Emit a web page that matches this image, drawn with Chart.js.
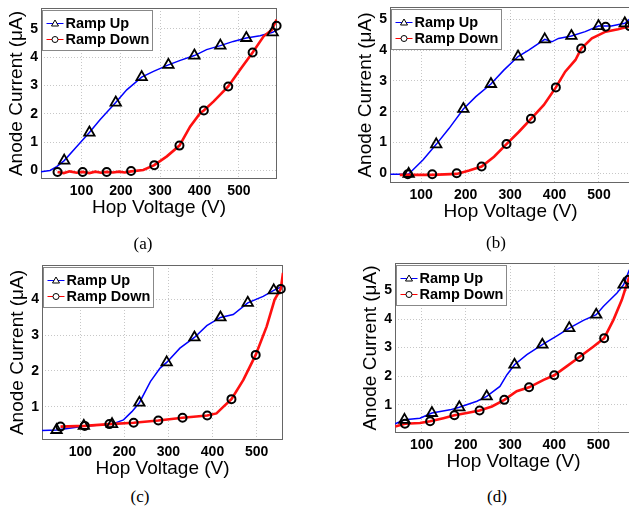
<!DOCTYPE html>
<html>
<head>
<meta charset="utf-8">
<script src="https://cdn.jsdelivr.net/npm/chart.js@4.4.1/dist/chart.umd.min.js"></script>
<style>
  html, body { margin: 0; padding: 0; background: #fff; overflow: hidden; width: 629px; height: 506px; position: relative; }
  canvas { position: absolute; }
  .cap { position: absolute; font: 17px "Liberation Serif", "Times New Roman", serif; color: #000; transform: translate(-50%, -50%); white-space: nowrap; }
</style>
</head>
<body>
<canvas id="a"></canvas>
<canvas id="b"></canvas>
<canvas id="c"></canvas>
<canvas id="d"></canvas>
<div class="cap" style="left:143px;top:244px">(a)</div>
<div class="cap" style="left:496px;top:243px">(b)</div>
<div class="cap" style="left:140px;top:497px">(c)</div>
<div class="cap" style="left:497px;top:497px">(d)</div>
<script>
// values: hop voltage (V) -> anode current (uA)
// (a)
const aUpV = [-3, 20, 37, 56, 88, 120, 147, 187, 215, 253, 283, 321, 351, 387, 418, 453, 486, 519, 554, 586, 597];
const aUpI = [-0.04, 0, 0.14, 0.35, 0.85, 1.34, 1.79, 2.40, 2.85, 3.30, 3.50, 3.73, 3.89, 4.06, 4.27, 4.41, 4.56, 4.68, 4.76, 4.88, 4.97];
const aDownV = [39, 55, 70, 88, 103, 120, 135, 150, 164, 180, 195, 210, 226, 257, 285, 317, 349, 376, 402, 411, 436, 473, 503, 535, 563, 584, 596];
const aDownI = [-0.05, -0.09, -0.03, -0.08, -0.05, -0.09, -0.04, -0.08, -0.05, -0.07, -0.04, -0.07, -0.03, 0.02, 0.19, 0.50, 0.88, 1.55, 2.03, 2.12, 2.44, 2.97, 3.56, 4.17, 4.74, 4.97, 5.33];
const aUpMarkV = [56, 120, 187, 253, 321, 387, 453, 519, 586];
const aUpMarkI = [0.35, 1.34, 2.40, 3.30, 3.73, 4.06, 4.41, 4.68, 4.88];
const aDownMarkV = [39, 103, 164, 226, 285, 349, 411, 473, 535, 596];
const aDownMarkI = [-0.05, -0.05, -0.05, -0.02, 0.19, 0.88, 2.12, 2.97, 4.17, 5.11];

// (b)
const bUpV = [31, 50, 72, 104, 134, 163, 195, 223, 257, 286, 318, 342, 378, 394, 409, 438, 469, 499, 528, 558, 571];
const bUpI = [-0.03, -0.03, -0.02, 0.43, 0.94, 1.46, 2.09, 2.49, 2.90, 3.35, 3.79, 4.00, 4.35, 4.27, 4.38, 4.46, 4.60, 4.78, 4.78, 4.87, 5.03];
const bDownV = [52, 70, 125, 180, 208, 236, 264, 292, 320, 347, 376, 403, 424, 447, 460, 484, 515, 543, 571];
const bDownI = [-0.05, -0.05, -0.05, -0.02, 0.09, 0.22, 0.54, 0.95, 1.35, 1.77, 2.22, 2.79, 3.30, 3.68, 4.05, 4.38, 4.60, 4.68, 4.78];
const bUpMarkV = [72, 134, 195, 257, 318, 378, 438, 499, 558];
const bUpMarkI = [-0.02, 0.94, 2.09, 2.90, 3.79, 4.35, 4.46, 4.78, 4.87];
const bDownMarkV = [70, 125, 180, 236, 292, 347, 403, 460, 515, 569];
const bDownMarkI = [-0.03, -0.03, 0.0, 0.22, 0.95, 1.77, 2.79, 4.05, 4.76, 4.78];

// (c)
const cUpV = [13, 46, 108, 172, 198, 217, 234, 259, 281, 296, 326, 359, 387, 418, 447, 480, 515, 539, 560];
const cUpI = [0.33, 0.345, 0.45, 0.51, 0.63, 0.86, 1.11, 1.70, 2.08, 2.24, 2.64, 2.94, 3.27, 3.50, 3.58, 3.91, 4.09, 4.26, 4.38];
const cDownV = [55, 110, 166, 221, 277, 332, 388, 409, 425, 443, 470, 498, 523, 541, 555, 560];
const cDownI = [0.44, 0.46, 0.51, 0.55, 0.61, 0.69, 0.75, 0.81, 1.0, 1.21, 1.75, 2.45, 3.25, 4.0, 4.30, 4.75];
const cUpMarkV = [46, 108, 172, 234, 296, 359, 418, 480, 539];
const cUpMarkI = [0.345, 0.46, 0.51, 1.11, 2.24, 2.94, 3.50, 3.91, 4.26];
const cDownMarkV = [55, 110, 166, 221, 277, 332, 388, 443, 498, 555];
const cDownMarkI = [0.44, 0.46, 0.51, 0.55, 0.61, 0.69, 0.75, 1.21, 2.45, 4.30];

// (d)
const dUpV = [40, 61, 96, 123, 164, 185, 225, 247, 277, 293, 310, 338, 373, 406, 434, 466, 495, 511, 542, 557, 570];
const dUpI = [0.335, 0.47, 0.53, 0.71, 0.82, 0.91, 1.12, 1.29, 1.64, 2.05, 2.40, 2.75, 3.10, 3.41, 3.68, 3.95, 4.15, 4.44, 4.91, 5.20, 5.72];
const dDownV = [40, 62, 96, 119, 149, 174, 202, 231, 259, 287, 315, 343, 376, 400, 428, 457, 489, 513, 534, 553, 570];
const dDownI = [0.24, 0.335, 0.36, 0.42, 0.53, 0.63, 0.71, 0.80, 0.94, 1.17, 1.47, 1.61, 1.87, 2.03, 2.34, 2.67, 3.04, 3.33, 3.97, 4.67, 5.49];
const dUpMarkV = [61, 123, 185, 247, 310, 373, 434, 495, 557];
const dUpMarkI = [0.47, 0.71, 0.91, 1.29, 2.40, 3.10, 3.68, 4.15, 5.20];
const dDownMarkV = [62, 119, 174, 231, 287, 343, 400, 457, 513, 568];
const dDownMarkI = [0.335, 0.42, 0.63, 0.80, 1.17, 1.61, 2.03, 2.67, 3.33, 5.37];

const xTicks = [100, 200, 300, 400, 500];
const aYTicks = [0, 1, 2, 3, 4, 5];
const bYTicks = [0, 1, 2, 3, 4, 5];
const cYTicks = [1, 2, 3, 4];
const dYTicks = [1, 2, 3, 4, 5];
const seriesNames = ["Ramp Up", "Ramp Down"];

Chart.defaults.font.family = '"Liberation Sans", Arial, sans-serif';
Chart.defaults.color = "#000";

// plot box in page pixels + axis limits
const panels = [
  { id: "a", L: 41, R: 277, T: 8, B: 179, xMin: -3, xMax: 597, yMin: -0.3, yMax: 5.74, yTicks: aYTicks,
    up: [aUpV, aUpI], down: [aDownV, aDownI], upMark: [aUpMarkV, aUpMarkI], downMark: [aDownMarkV, aDownMarkI] },
  { id: "b", L: 390, R: 631, T: 7, B: 183, xMin: 30, xMax: 572, yMin: -0.315, yMax: 5.4, yTicks: bYTicks,
    up: [bUpV, bUpI], down: [bDownV, bDownI], upMark: [bUpMarkV, bUpMarkI], downMark: [bDownMarkV, bDownMarkI] },
  { id: "c", L: 42, R: 283, T: 265, B: 440, xMin: 13, xMax: 560, yMin: 0.065, yMax: 4.97, yTicks: cYTicks,
    up: [cUpV, cUpI], down: [cDownV, cDownI], upMark: [cUpMarkV, cUpMarkI], downMark: [cDownMarkV, cDownMarkI] },
  { id: "d", L: 395, R: 632, T: 263, B: 433, xMin: 39.5, xMax: 576, yMin: 0.01, yMax: 5.96, yTicks: dYTicks,
    up: [dUpV, dUpI], down: [dDownV, dDownI], upMark: [dUpMarkV, dUpMarkI], downMark: [dDownMarkV, dDownMarkI] },
];

function pts(xs, ys) {
  return xs.map((x, i) => ({ x: x, y: ys[i] }));
}

// MATLAB-style axes box
const boxPlugin = {
  id: "box",
  beforeDatasetsDraw(chart) {
    const { ctx, chartArea: a } = chart;
    ctx.save();
    ctx.strokeStyle = "#666";
    ctx.lineWidth = 1;
    ctx.strokeRect(Math.round(a.left) + 0.5, Math.round(a.top) + 0.5,
      Math.round(a.right - a.left) - 1, Math.round(a.bottom - a.top) - 1);
    ctx.restore();
  },
};

// legend inside the axes, top left
const boxLegend = {
  id: "boxLegend",
  afterDatasetsDraw(chart) {
    const { ctx, chartArea: a } = chart;
    const x = Math.round(a.left) + 1.5, y = Math.round(a.top) + 2.5;
    ctx.save();
    ctx.fillStyle = "#fff";
    ctx.strokeStyle = "#888";
    ctx.lineWidth = 1;
    ctx.fillRect(x, y, 110, 40);
    ctx.strokeRect(x, y, 110, 40);
    const colors = ["#0000ff", "#ff0000"];
    seriesNames.forEach((name, i) => {
      const ry = y + 13 + i * 16;
      ctx.strokeStyle = colors[i];
      ctx.lineWidth = 1;
      ctx.beginPath();
      ctx.moveTo(x + 4, ry);
      ctx.lineTo(x + 21, ry);
      ctx.stroke();
      ctx.strokeStyle = "#000";
      ctx.beginPath();
      if (i === 0) {
        ctx.moveTo(x + 12.5, ry - 3.5);
        ctx.lineTo(x + 16, ry + 2.5);
        ctx.lineTo(x + 9, ry + 2.5);
        ctx.closePath();
      } else {
        ctx.arc(x + 12.5, ry, 3, 0, Math.PI * 2);
      }
      ctx.fillStyle = "#fff";
      ctx.fill();
      ctx.stroke();
      ctx.fillStyle = "#000";
      ctx.font = 'bold 14.5px "Liberation Sans", Arial, sans-serif';
      ctx.textBaseline = "middle";
      ctx.fillText(name, x + 23, ry + 0.5);
    });
    ctx.restore();
  },
};

function makePanel(p) {
  const cv = document.getElementById(p.id);
  const left = p.L - 41, top = p.T - 16;
  cv.style.left = left + "px";
  cv.style.top = top + "px";
  cv.width = p.R + 13 - left;
  cv.height = p.B + 43 - top;

  const gridOpts = { color: "rgba(0,0,0,0.22)", lineWidth: 1, drawTicks: false };
  const borderOpts = { display: false, dash: [1, 2] };
  const tickFont = { size: 14, weight: "bold" };

  new Chart(cv, {
    type: "scatter",
    data: {
      datasets: [
        { data: pts(p.upMark[0], p.upMark[1]), showLine: false, pointStyle: "triangle", pointRadius: 6,
          pointBorderWidth: 1.8, pointBorderColor: "#000", pointBackgroundColor: "rgba(0,0,0,0)", clip: false, order: 0 },
        { data: pts(p.downMark[0], p.downMark[1]), showLine: false, pointStyle: "circle", pointRadius: 4,
          pointBorderWidth: 2, pointBorderColor: "#000", pointBackgroundColor: "rgba(0,0,0,0)", clip: false, order: 0 },
        { data: pts(p.up[0], p.up[1]), showLine: true, borderColor: "#0000ff", borderWidth: 1.5, pointRadius: 0, order: 2 },
        { data: pts(p.down[0], p.down[1]), showLine: true, borderColor: "#ff1010", borderWidth: 2.6, pointRadius: 0, order: 1 },
      ],
    },
    options: {
      responsive: false,
      animation: false,
      devicePixelRatio: 1,
      events: [],
      layout: { padding: { left: 0, top: 16, right: 13, bottom: 0 } },
      plugins: { legend: { display: false }, tooltip: { enabled: false } },
      scales: {
        x: {
          type: "linear", min: p.xMin, max: p.xMax,
          afterBuildTicks: (s) => { s.ticks = xTicks.map((v) => ({ value: v })); },
          afterFit: (s) => { s.height = 43; },
          grid: gridOpts, border: borderOpts,
          ticks: { padding: 4, maxRotation: 0, autoSkip: false, font: tickFont },
          title: { display: true, text: "Hop Voltage (V)", font: { size: 19 }, padding: { top: 0, bottom: 3 } },
        },
        y: {
          type: "linear", min: p.yMin, max: p.yMax,
          afterBuildTicks: (s) => { s.ticks = p.yTicks.map((v) => ({ value: v })); },
          afterFit: (s) => { s.width = 41; },
          grid: gridOpts, border: borderOpts,
          ticks: { padding: 3, autoSkip: false, font: tickFont },
          title: { display: true, text: "Anode Current (μA)", font: { size: 19 }, padding: { top: 5.6, bottom: 0 } },
        },
      },
    },
    plugins: [boxPlugin, boxLegend],
  });
}

panels.forEach(makePanel);
</script>
</body>
</html>
